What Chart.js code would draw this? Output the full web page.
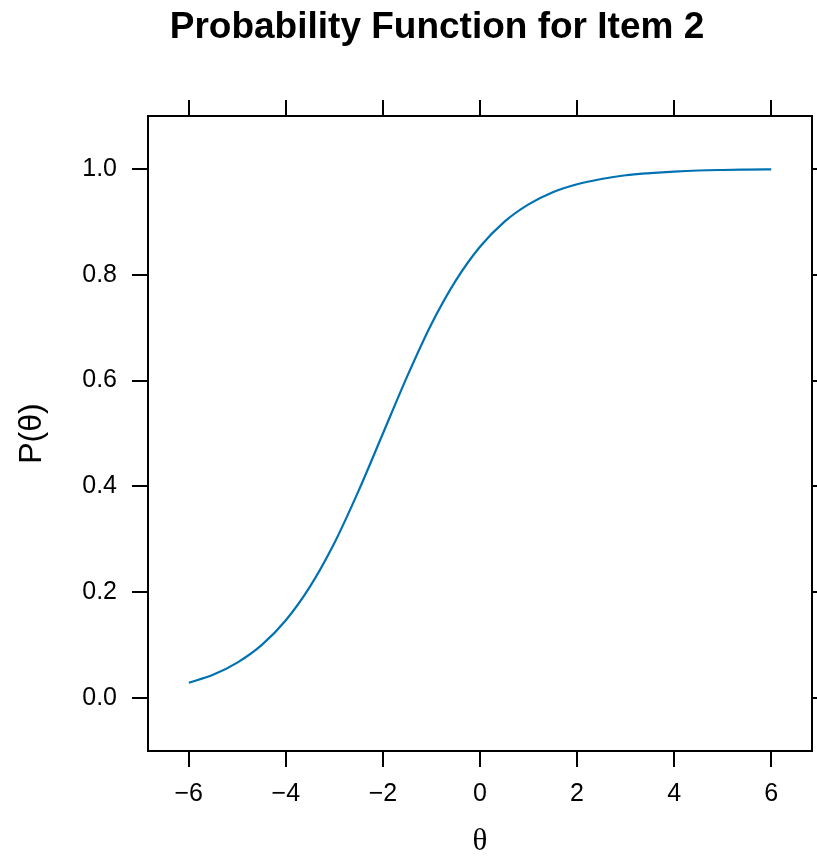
<!DOCTYPE html>
<html>
<head>
<meta charset="utf-8">
<script src="https://cdn.jsdelivr.net/npm/chart.js@4.4.1/dist/chart.umd.min.js"></script>
<style>
  html, body { margin: 0; padding: 0; background: #ffffff; }
  #wrap { width: 817px; height: 857px; }
</style>
</head>
<body>
<div id="wrap"><canvas id="c" width="817" height="857"></canvas></div>
<script>
const TITLE = "Probability Function for Item 2";
const X_TITLE = "θ";
const Y_TITLE = "P(θ)";
const THETA = [-6, -5.5, -5, -4.5, -4, -3.5, -3, -2.5, -2, -1.5, -1, -0.5, 0, 0.5, 1, 1.5, 2, 2.5, 3, 3.5, 4, 4.5, 5, 5.5, 6];
const PROB  = [0.029, 0.044, 0.067, 0.100, 0.147, 0.211, 0.293, 0.392, 0.500, 0.608, 0.707, 0.789, 0.853, 0.900, 0.933, 0.956, 0.971, 0.981, 0.988, 0.992, 0.995, 0.997, 0.998, 0.9986, 0.9991];
const X_TICKS = [-6, -4, -2, 0, 2, 4, 6];
const Y_TICKS = [0.0, 0.2, 0.4, 0.6, 0.8, 1.0];
const X_RANGE = [-6.84, 6.84];
const Y_RANGE = [-0.1, 1.1];

const points = THETA.map((t, i) => ({ x: t, y: PROB[i] }));

const FRAME = 2;
const TICK_LEN = 16;

function setTicks(values) {
  return function (scale) { scale.ticks = values.map(v => ({ value: v })); };
}
function fixSize(prop, size) {
  return function (scale) { scale[prop] = size; };
}
const gridOpts = {
  display: true, drawOnChartArea: false, drawTicks: true,
  tickLength: TICK_LEN, tickColor: '#000000', tickWidth: FRAME, color: '#000000', lineWidth: FRAME
};
const borderOpts = { display: true, color: '#000000', width: FRAME };

const titlePlugin = {
  id: 'centeredTitle',
  afterDraw(chart) {
    const ctx = chart.ctx;
    ctx.save();
    ctx.font = 'bold 37px "Liberation Sans", Arial, sans-serif';
    ctx.fillStyle = '#000000';
    ctx.textAlign = 'center';
    ctx.textBaseline = 'middle';
    ctx.fillText(TITLE, 437, 28);
    ctx.restore();
  }
};

new Chart(document.getElementById('c'), {
  type: 'line',
  data: {
    datasets: [{
      data: points,
      borderColor: '#0072B2',
      borderWidth: 2.2,
      pointRadius: 0,
      fill: false,
      cubicInterpolationMode: 'monotone'
    }]
  },
  options: {
    responsive: false,
    animation: false,
    devicePixelRatio: 1,
    layout: { padding: { top: 100, left: 0, right: 0, bottom: 0 } },
    plugins: { legend: { display: false }, tooltip: { enabled: false }, title: { display: false } },
    scales: {
      x: {
        type: 'linear', position: 'bottom', min: X_RANGE[0], max: X_RANGE[1],
        afterBuildTicks: setTicks(X_TICKS),
        afterFit: fixSize('height', 106),
        grid: gridOpts, border: borderOpts,
        ticks: {
          display: true, color: '#000000', padding: 15, maxRotation: 0, autoSkip: false,
          font: { family: '"Liberation Sans", Arial, sans-serif', size: 25, lineHeight: 1 },
          callback: v => (v < 0 ? '\u2212' + Math.abs(v) : String(v))
        },
        title: {
          display: true, text: X_TITLE, color: '#000000',
          font: { family: '"Liberation Serif", "Times New Roman", serif', size: 31, lineHeight: 1 },
          padding: { top: 0, bottom: 0 }
        }
      },
      x2: {
        type: 'linear', position: 'top', min: X_RANGE[0], max: X_RANGE[1],
        afterBuildTicks: setTicks(X_TICKS),
        afterFit: fixSize('height', 16),
        grid: gridOpts, border: borderOpts,
        ticks: { display: false }
      },
      y: {
        type: 'linear', position: 'left', min: Y_RANGE[0], max: Y_RANGE[1],
        afterBuildTicks: setTicks(Y_TICKS),
        afterFit: fixSize('width', 148),
        grid: gridOpts, border: borderOpts,
        ticks: {
          display: true, color: '#000000', padding: 15, autoSkip: false,
          font: { family: '"Liberation Sans", Arial, sans-serif', size: 25, lineHeight: 1 },
          callback: v => Number(v).toFixed(1)
        },
        title: {
          display: true, text: Y_TITLE, color: '#000000',
          font: { family: '"Liberation Sans", Arial, sans-serif', size: 32, lineHeight: 1 },
          padding: { top: 16, bottom: 0 }
        }
      },
      y2: {
        type: 'linear', position: 'right', min: Y_RANGE[0], max: Y_RANGE[1],
        afterBuildTicks: setTicks(Y_TICKS),
        afterFit: fixSize('width', 5),
        grid: gridOpts, border: borderOpts,
        ticks: { display: false }
      }
    }
  },
  plugins: [titlePlugin]
});
</script>
</body>
</html>
